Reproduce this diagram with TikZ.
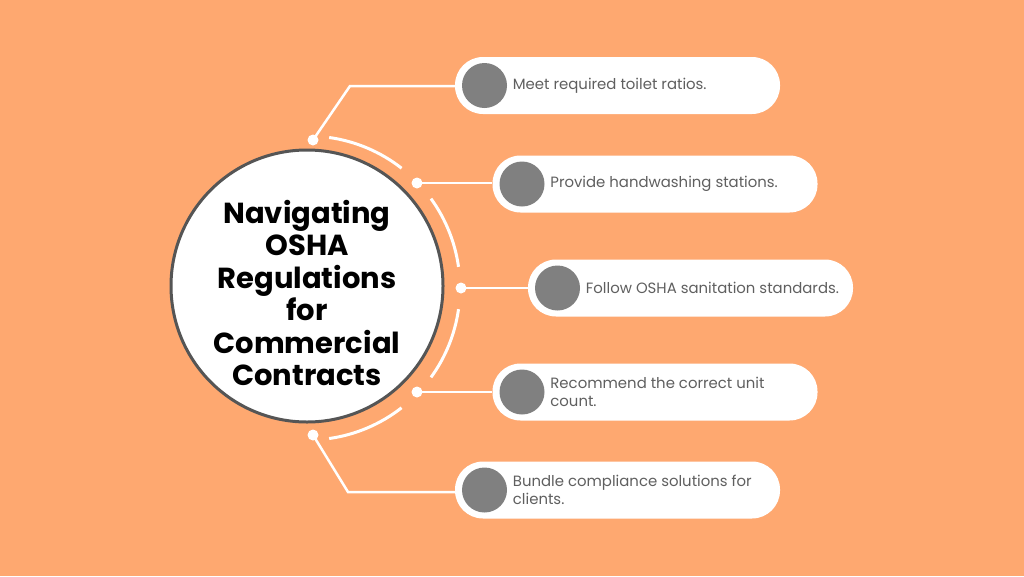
\documentclass[tikz,border=0pt]{standalone}
\usepackage{fontspec}
\setmainfont{Poppins}
\usetikzlibrary{positioning, backgrounds}
\definecolor{bgorange}{RGB}{254,168,112}
\definecolor{ringgray}{RGB}{85,85,85}
\definecolor{bulletgray}{RGB}{128,128,128}
\definecolor{itemtext}{RGB}{95,95,95}
\tikzset{
  % central title disc
  hub/.style={
    circle, draw=ringgray, fill=white, line width=3pt, minimum size=272pt,
    inner sep=0pt
  },
  hubtitle/.style={
    align=center, text=black, inner sep=0pt,
    font=\fontsize{29}{32.4}\selectfont\bfseries
  },
  % white pill holding one item
  pill/.style={
    rectangle, rounded corners=28pt, fill=white, minimum width=325pt,
    minimum height=57pt, inner sep=0pt
  },
  bullet/.style={circle, fill=bulletgray, minimum size=45pt, inner sep=0pt},
  itemlabel/.style={
    align=left, text=itemtext, inner sep=0pt,
    font=\fontsize{14.9}{17.5}\selectfont
  },
  dot/.style={circle, fill=white, minimum size=11pt, inner sep=0pt},
  conn/.style={white, line width=2.5pt},
  ring/.style={white, line width=3pt}
}
\begin{document}
\begin{tikzpicture}[x=1pt, y=-1pt]
  \useasboundingbox (0,0) rectangle (1024,576);

  % dashed ring round the hub (angles flipped, y runs down)
  \draw[ring] (308,288) ++(-82:152) arc[start angle=-82, end angle=-52, radius=152];
  \draw[ring] (308,288) ++(-36:152) arc[start angle=-36, end angle=-8, radius=152];
  \draw[ring] (308,288) ++(8:152) arc[start angle=8, end angle=36, radius=152];
  \draw[ring] (308,288) ++(52:152) arc[start angle=52, end angle=82, radius=152];

  % hub
  \node[hub] (hub) at (307,286) {};
  \node[hubtitle] (title) at (307,293) {Navigating\\OSHA\\Regulations\\for\\Commercial\\Contracts};

  % pills
  \node[pill] (p1) at (617.5,85.5) {};
  \node[pill] (p2) at (655,184) {};
  \node[pill] (p3) at (690.5,288) {};
  \node[pill] (p4) at (655,392) {};
  \node[pill] (p5) at (617.5,490) {};

  % bullets and labels
  \node[bullet, right=7pt of p1.west] (b1) {};
  \node[bullet, right=7pt of p2.west] (b2) {};
  \node[bullet, right=7pt of p3.west] (b3) {};
  \node[bullet, right=7pt of p4.west] (b4) {};
  \node[bullet, right=7pt of p5.west] (b5) {};
  \node[itemlabel, right=5.5pt of b1] (t1) {Meet required toilet ratios.};
  \node[itemlabel, right=5.5pt of b2] (t2) {Provide handwashing stations.};
  \node[itemlabel, right=5.5pt of b3] (t3) {Follow OSHA sanitation standards.};
  \node[itemlabel, right=5.5pt of b4] (t4) {Recommend the correct unit\\count.};
  \node[itemlabel, right=5.5pt of b5] (t5) {Bundle compliance solutions for\\clients.};

  % dots on the ring
  \node[dot] (d1) at (313,140) {};
  \node[dot] (d2) at (417,183) {};
  \node[dot] (d3) at (461,288) {};
  \node[dot] (d4) at (417,392) {};
  \node[dot] (d5) at (313,435) {};
  \coordinate (bend1) at (350,86);
  \coordinate (bend5) at (348,492);

  % connectors, kept under the dots and pills
  \begin{scope}[on background layer]
    \fill[bgorange] (0,0) rectangle (1024,576);
    \draw[conn] (d1.center) -- (bend1) -- (bend1 -| p1.west);
    \draw[conn] (d2.center) -- (d2 -| p2.west);
    \draw[conn] (d3.center) -- (d3 -| p3.west);
    \draw[conn] (d4.center) -- (d4 -| p4.west);
    \draw[conn] (d5.center) -- (bend5) -- (bend5 -| p5.west);
  \end{scope}
\end{tikzpicture}
\end{document}
